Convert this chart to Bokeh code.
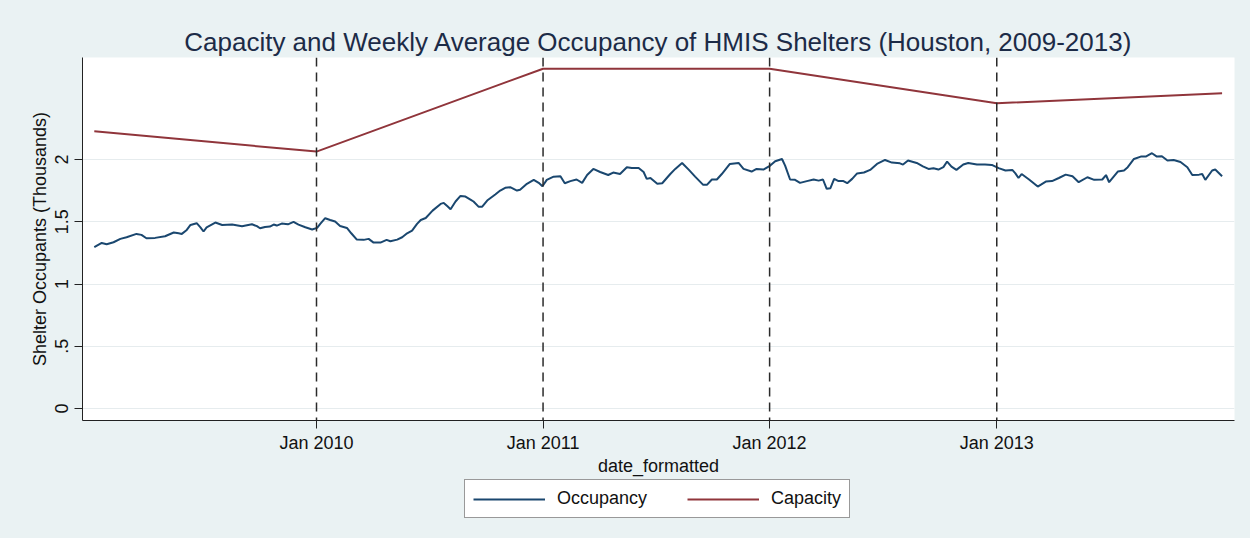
import pandas as pd
from bokeh.plotting import figure
from bokeh.layouts import column
from bokeh.models import (ColumnDataSource, Range1d, FixedTicker, DatetimeTickFormatter,
                          Span, Legend, LegendItem)
from bokeh.embed import file_html
from bokeh.resources import INLINE

# ---------------- data (thousands of occupants) ----------------
occ_dates = [
    "2009-01-08", "2009-01-20", "2009-01-28", "2009-02-08", "2009-02-19", "2009-03-01",
    "2009-03-17", "2009-03-25", "2009-04-02", "2009-04-16", "2009-05-02", "2009-05-16",
    "2009-05-24", "2009-05-29", "2009-06-06", "2009-06-12", "2009-06-22", "2009-06-28",
    "2009-07-03", "2009-07-08", "2009-07-22", "2009-08-02", "2009-08-18", "2009-09-03",
    "2009-09-19", "2009-09-27", "2009-10-02", "2009-10-10", "2009-10-18", "2009-10-24",
    "2009-10-29", "2009-11-06", "2009-11-16", "2009-11-25", "2009-12-03", "2009-12-14",
    "2009-12-25",
    "2010-01-02", "2010-01-07", "2010-01-15", "2010-01-23", "2010-01-31", "2010-02-08",
    "2010-02-19", "2010-02-26", "2010-03-07", "2010-03-18", "2010-03-26", "2010-04-03",
    "2010-04-14", "2010-04-24", "2010-04-30", "2010-05-11", "2010-05-19", "2010-05-27",
    "2010-06-04", "2010-06-12", "2010-06-18", "2010-06-26", "2010-07-07", "2010-07-20",
    "2010-07-25", "2010-07-31", "2010-08-05", "2010-08-13", "2010-08-21", "2010-08-29",
    "2010-09-06", "2010-09-11", "2010-09-19", "2010-09-25", "2010-10-03", "2010-10-16",
    "2010-10-24", "2010-11-01", "2010-11-09", "2010-11-20", "2010-11-25", "2010-12-06",
    "2010-12-17", "2010-12-25", "2010-12-31",
    "2011-01-07", "2011-01-18", "2011-01-29", "2011-02-05", "2011-02-14", "2011-02-24",
    "2011-03-05", "2011-03-13", "2011-03-23", "2011-04-03", "2011-04-16", "2011-04-24",
    "2011-05-05", "2011-05-16", "2011-05-24", "2011-06-04", "2011-06-12", "2011-06-17",
    "2011-06-23", "2011-07-04", "2011-07-12", "2011-07-25", "2011-08-02", "2011-08-13",
    "2011-08-24", "2011-09-03", "2011-09-16", "2011-09-22", "2011-09-30", "2011-10-08",
    "2011-10-16", "2011-10-29", "2011-11-12", "2011-11-20", "2011-12-03", "2011-12-11",
    "2011-12-22",
    "2012-01-02", "2012-01-10", "2012-01-21", "2012-01-26", "2012-02-03", "2012-02-11",
    "2012-02-19", "2012-03-01", "2012-03-12", "2012-03-20", "2012-03-27", "2012-04-02",
    "2012-04-08", "2012-04-14", "2012-04-21", "2012-04-29", "2012-05-05", "2012-05-13",
    "2012-05-21", "2012-06-01", "2012-06-11", "2012-06-22", "2012-07-05", "2012-07-16",
    "2012-07-29", "2012-08-03", "2012-08-11", "2012-08-25", "2012-09-04", "2012-09-13",
    "2012-09-21", "2012-09-29", "2012-10-07", "2012-10-13", "2012-10-20", "2012-10-28",
    "2012-11-08", "2012-11-16", "2012-11-30", "2012-12-13", "2012-12-24",
    "2013-01-04", "2013-01-15", "2013-01-26", "2013-01-31", "2013-02-05", "2013-02-10",
    "2013-02-22", "2013-03-08", "2013-03-21", "2013-03-31", "2013-04-11", "2013-04-22",
    "2013-05-03", "2013-05-13", "2013-05-27", "2013-06-07", "2013-06-20", "2013-06-26",
    "2013-07-01", "2013-07-15", "2013-07-25", "2013-07-31", "2013-08-10", "2013-08-21",
    "2013-08-29", "2013-09-08", "2013-09-16", "2013-09-24", "2013-10-03", "2013-10-13",
    "2013-10-24", "2013-11-04", "2013-11-12", "2013-11-23", "2013-11-28", "2013-12-03",
    "2013-12-14", "2013-12-19", "2013-12-30",
]
occ_values = [
    1.296, 1.330, 1.320, 1.336, 1.363, 1.376, 1.403, 1.395, 1.368, 1.371, 1.384, 1.414,
    1.408, 1.403, 1.435, 1.475, 1.489, 1.456, 1.422, 1.456, 1.494, 1.475, 1.478, 1.465,
    1.480, 1.465, 1.448, 1.459, 1.462, 1.478, 1.470, 1.486, 1.480, 1.500, 1.478, 1.456,
    1.438,
    1.451, 1.483, 1.529, 1.515, 1.502, 1.467, 1.451, 1.408, 1.357, 1.355, 1.363, 1.333,
    1.333, 1.355, 1.344, 1.357, 1.376, 1.408, 1.430, 1.483, 1.515, 1.531, 1.590, 1.644,
    1.652, 1.625, 1.601, 1.663, 1.708, 1.703, 1.679, 1.663, 1.622, 1.622, 1.671, 1.719,
    1.751, 1.773, 1.778, 1.751, 1.757, 1.805, 1.837, 1.813, 1.786,
    1.837, 1.863, 1.866, 1.810, 1.827, 1.840, 1.813, 1.876, 1.925, 1.900, 1.876, 1.896,
    1.884, 1.939, 1.933, 1.933, 1.900, 1.845, 1.852, 1.805, 1.810, 1.884, 1.925, 1.973,
    1.917, 1.863, 1.797, 1.797, 1.840, 1.840, 1.884, 1.965, 1.973, 1.925, 1.904, 1.925,
    1.920,
    1.952, 1.987, 2.005, 1.952, 1.840, 1.837, 1.813, 1.827, 1.840, 1.831, 1.840, 1.765,
    1.770, 1.845, 1.827, 1.827, 1.810, 1.845, 1.889, 1.896, 1.917, 1.965, 1.997, 1.976,
    1.970, 1.960, 1.992, 1.973, 1.946, 1.925, 1.931, 1.920, 1.939, 1.984, 1.944, 1.917,
    1.960, 1.973, 1.960, 1.960, 1.957,
    1.931, 1.912, 1.917, 1.889, 1.852, 1.884, 1.840, 1.783, 1.823, 1.827, 1.852, 1.879,
    1.866, 1.818, 1.858, 1.837, 1.840, 1.876, 1.818, 1.904, 1.912, 1.939, 2.005, 2.024,
    2.024, 2.051, 2.024, 2.027, 1.992, 1.997, 1.981, 1.939, 1.876, 1.879, 1.884, 1.837,
    1.912, 1.920, 1.866,
]
cap_dates = ["2009-01-08", "2010-01-01", "2011-01-01", "2012-01-01", "2013-01-01", "2013-12-30"]
cap_values = [2.227, 2.064, 2.730, 2.730, 2.452, 2.533]

x_tick_dates = ["2010-01-01", "2011-01-01", "2012-01-01", "2013-01-01"]
x_tick_labels = ["Jan 2010", "Jan 2011", "Jan 2012", "Jan 2013"]
y_ticks = [0, 0.5, 1, 1.5, 2]
y_tick_labels = ["0", ".5", "1", "1.5", "2"]

title_text = "Capacity and Weekly Average Occupancy of HMIS Shelters (Houston, 2009-2013)"
x_label = "date_formatted"
y_label = "Shelter Occupants (Thousands)"
series_names = ["Occupancy", "Capacity"]

# ---------------- styling ----------------
FONT = "Liberation Sans"
BG = "#eaf2f3"
NAVY = "#1a476f"
MAROON = "#90353b"
TOTAL_W, TOTAL_H = 1250, 538
MAIN_H = 478
FRAME_LEFT = 82


def ms(s):
    return pd.Timestamp(s).value / 1e6


occ_src = ColumnDataSource(dict(x=[ms(d) for d in occ_dates], y=occ_values))
cap_src = ColumnDataSource(dict(x=[ms(d) for d in cap_dates], y=cap_values))
sources = [occ_src, cap_src]

p = figure(width=TOTAL_W, height=MAIN_H, frame_width=1152, frame_height=363,
           x_axis_type="datetime",
           output_backend="svg", toolbar_location=None,
           x_range=Range1d(ms("2008-12-20"), ms("2014-01-19")),
           y_range=Range1d(-0.096, 2.82),
           min_border_left=FRAME_LEFT, min_border_right=16,
           min_border_top=57, min_border_bottom=MAIN_H - 57 - 363,
           styles={"background-color": BG})

p.background_fill_color = "white"
p.border_fill_color = BG
p.outline_line_color = None

# title
p.title.text = title_text
p.title.align = "center"
p.title.text_font = FONT
p.title.text_font_size = "26px"
p.title.text_font_style = "normal"
p.title.text_color = "#1c2b47"
p.title.standoff = 2

# grid
p.xgrid.grid_line_color = None
p.ygrid.ticker = FixedTicker(ticks=y_ticks)
p.ygrid.grid_line_color = "#e6ecee"
p.ygrid.grid_line_width = 1

# x axis
xa = p.xaxis[0]
xa.ticker = FixedTicker(ticks=[ms(d) for d in x_tick_dates])
xa.major_label_overrides = {int(ms(d)): lab for d, lab in zip(x_tick_dates, x_tick_labels)}
xa.formatter = DatetimeTickFormatter(years="%b %Y", months="%b %Y", days="%b %Y")
xa.axis_label = x_label

# y axis
ya = p.yaxis[0]
ya.ticker = FixedTicker(ticks=y_ticks)
ya.major_label_overrides = {t: lab for t, lab in zip(y_ticks, y_tick_labels)}
ya.major_label_orientation = "vertical"
ya.axis_label = y_label

for ax in (xa, ya):
    ax.axis_line_color = "#222222"
    ax.axis_line_width = 1
    ax.major_tick_line_color = "#222222"
    ax.major_tick_in = 0
    ax.major_tick_out = 8
    ax.minor_tick_line_color = None
    ax.major_label_text_font = FONT
    ax.major_label_text_font_size = "18px"
    ax.major_label_text_color = "#111111"
    ax.axis_label_text_font = FONT
    ax.axis_label_text_font_size = "18px"
    ax.axis_label_text_font_style = "normal"
    ax.axis_label_text_color = "#111111"

xa.major_label_standoff = 4
xa.axis_label_standoff = 0
ya.major_label_standoff = 6
ya.axis_label_standoff = 3

# vertical dashed reference lines at the ticks
for d in x_tick_dates:
    p.add_layout(Span(location=ms(d), dimension="height", line_color="#2a2a2a",
                      line_width=1.5, line_dash="9 6"))

line_styles = [dict(line_color=NAVY, line_width=2), dict(line_color=MAROON, line_width=2)]
for src, style in zip(sources, line_styles):
    p.line("x", "y", source=src, **style)

# ---------------- legend strip below the chart ----------------
# (same series re-drawn off-view, only so that the legend shows their line keys)
leg_h = TOTAL_H - MAIN_H
lf = figure(width=TOTAL_W, height=leg_h, output_backend="svg", toolbar_location=None,
            x_axis_location=None, y_axis_location=None,
            x_range=Range1d(0, 1), y_range=Range1d(0, 1),
            min_border_left=0, min_border_right=0, min_border_top=0, min_border_bottom=0,
            styles={"background-color": BG})
lf.background_fill_color = BG
lf.border_fill_color = BG
lf.outline_line_color = None
lf.grid.grid_line_color = None

items = []
for name, src, style in zip(series_names, sources, line_styles):
    r = lf.line("x", "y", source=src, **style)
    items.append(LegendItem(label=name, renderers=[r]))

legend = Legend(items=items, orientation="horizontal",
                location=(464 - FRAME_LEFT, leg_h - 4 - 36))
legend.label_text_font = FONT
legend.label_text_font_size = "18px"
legend.label_text_color = "#111111"
legend.border_line_color = "#333333"
legend.border_line_width = 1
legend.background_fill_color = "white"
legend.background_fill_alpha = 1
legend.glyph_width = 72
legend.glyph_height = 18
legend.label_standoff = 12
legend.spacing = 40
legend.padding = 8
legend.margin = 0
lf.add_layout(legend)

layout = column(p, lf, spacing=0, styles={"background-color": BG})
open("out.html", "w").write(file_html(layout, INLINE))
